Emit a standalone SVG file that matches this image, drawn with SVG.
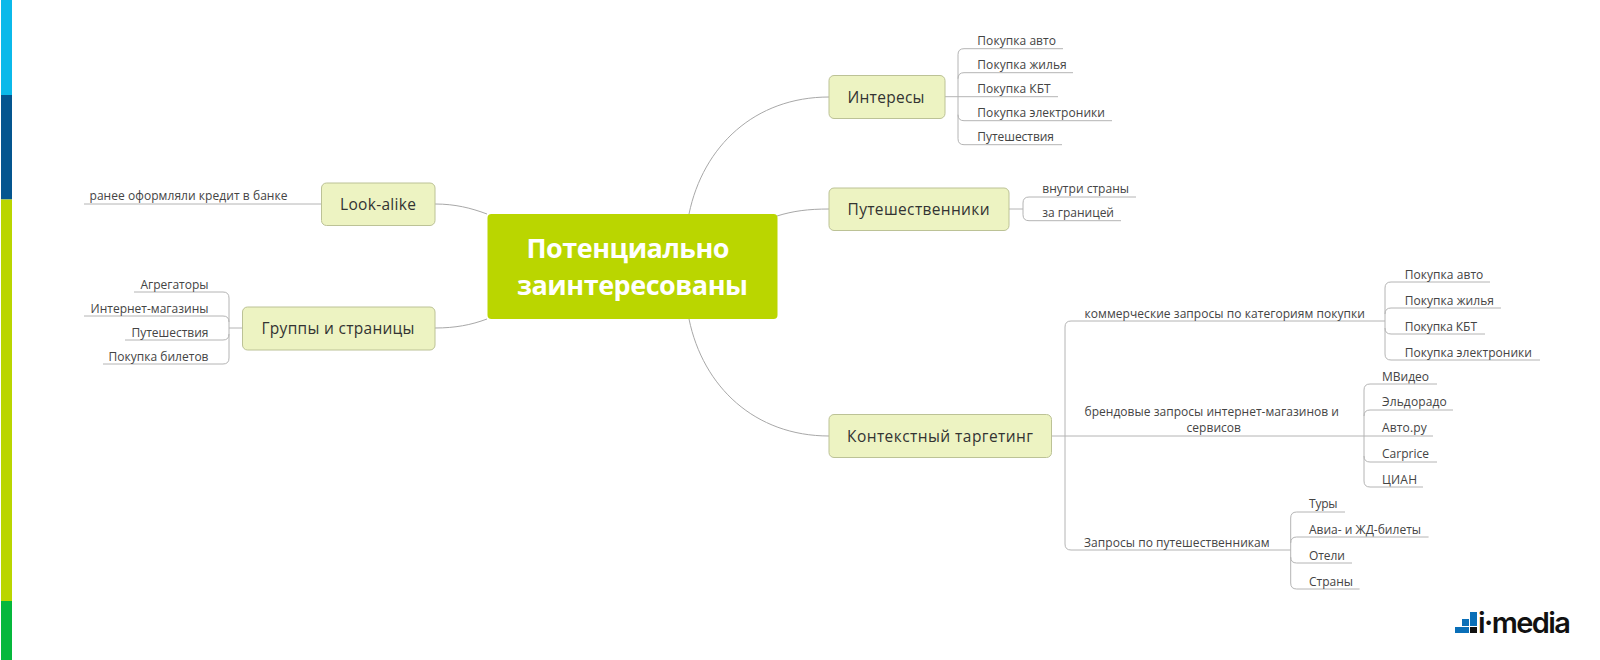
<svg xmlns="http://www.w3.org/2000/svg" width="1600" height="660" viewBox="0 0 1600 660">
<style>
text{font-family:"Open Sans","Noto Sans","Liberation Sans",sans-serif;fill:#444}
.leaf{font-size:12px}
.main{font-size:15.500px;fill:#333}
.root{font-size:27px;font-weight:700;fill:#fff}
.n{fill:#edf3c2;stroke:#bcc296;stroke-width:1}
.c{fill:none;stroke:#b4b4b4;stroke-width:1}
.curve{fill:none;stroke:#a8a8a8;stroke-width:1}
</style>
<rect width="1600" height="660" fill="#fff"/>
<g id="sidebar">
<rect x="1" y="0" width="11" height="95" fill="#0bb9ea"/>
<rect x="1" y="95" width="11" height="104.500" fill="#04558f"/>
<rect x="1" y="199.500" width="11" height="401.500" fill="#bad600"/>
<rect x="1" y="601" width="11" height="59" fill="#05b83c"/>
</g>
<g id="connectors">
<path class="curve" d="M689 214C703 146 755 97 829 97"/>
<path class="curve" d="M777 216C793 211 808 209 829 209"/>
<path class="curve" d="M689 319C703 387 755 436 829 436"/>
<path class="curve" d="M435 204C455 204 471 208 487 214"/>
<path class="curve" d="M435 328C455 328 471 325 487 319"/>
<path class="c" d="M945 96.700H1058"/>
<path class="c" d="M1063 48.700H964Q958 48.700 958 54.700V138.700Q958 144.700 964 144.700H1062"/>
<path class="c" d="M958 78.700Q958 72.700 964 72.700H1073"/>
<path class="c" d="M958 114.700Q958 120.700 964 120.700H1112"/>
<path class="c" d="M1009 209H1023"/>
<path class="c" d="M1136 197H1029Q1023 197 1023 203V214.700Q1023 220.700 1029 220.700H1121"/>
<path class="c" d="M1051 436H1433"/>
<path class="c" d="M1385 321H1071Q1065 321 1065 327V544Q1065 550 1071 550H1290.700"/>
<path class="c" d="M1490 282H1391Q1385 282 1385 288V354Q1385 360 1391 360H1540"/>
<path class="c" d="M1385 314Q1385 308 1391 308H1501"/>
<path class="c" d="M1385 328Q1385 334 1391 334H1485"/>
<path class="c" d="M1437 384H1370Q1364 384 1364 390V481Q1364 487 1370 487H1423"/>
<path class="c" d="M1364 416Q1364 410 1370 410H1453"/>
<path class="c" d="M1364 456Q1364 462 1370 462H1437"/>
<path class="c" d="M1345 512H1296.700Q1290.700 512 1290.700 518V583Q1290.700 589 1296.700 589H1359.600"/>
<path class="c" d="M1290.700 543Q1290.700 537 1296.700 537H1428.600"/>
<path class="c" d="M1290.700 557Q1290.700 563 1296.700 563H1352"/>
<path class="c" d="M321 204H84"/>
<path class="c" d="M242 328H229"/>
<path class="c" d="M134 292H223Q229 292 229 298V358Q229 364 223 364H103"/>
<path class="c" d="M84 316H223Q229 316 229 322"/>
<path class="c" d="M125 340H223Q229 340 229 334"/>
</g>
<g id="root"><rect x="487.500" y="214" width="290" height="105" rx="4" fill="#bad600"/>
<text class="root" x="526.500" y="258" textLength="203">Потенциально</text>
<text class="root" x="517" y="295" textLength="231">заинтересованы</text></g>
<g id="interests"><rect class="n" x="829" y="75.500" width="116" height="43" rx="5"/><text class="main" x="847.500" y="102.700" textLength="77">Интересы</text></g>
<g id="travellers"><rect class="n" x="829" y="188" width="180" height="42.500" rx="5"/><text class="main" x="847.500" y="215" textLength="142">Путешественники</text></g>
<g id="context"><rect class="n" x="829" y="414.500" width="222.500" height="43" rx="5"/><text class="main" x="847" y="442" textLength="186">Контекстный таргетинг</text></g>
<g id="lookalike"><rect class="n" x="321.500" y="183" width="113.500" height="42.500" rx="5"/><text class="main" x="340" y="210" textLength="76">Look-alike</text></g>
<g id="groups"><rect class="n" x="242.500" y="307" width="192.500" height="43" rx="5"/><text class="main" x="261.500" y="334" textLength="153">Группы и страницы</text></g>
<g id="interests-leaves">
<text class="leaf" x="977.300" y="45" textLength="78.700">Покупка авто</text>
<text class="leaf" x="977.300" y="69" textLength="89.400">Покупка жилья</text>
<text class="leaf" x="977.300" y="93" textLength="73.400">Покупка КБТ</text>
<text class="leaf" x="977.300" y="117" textLength="127.700">Покупка электроники</text>
<text class="leaf" x="977.300" y="141" textLength="76.700">Путешествия</text>
</g>
<g id="travellers-leaves">
<text class="leaf" x="1042.300" y="193" textLength="86.700">внутри страны</text>
<text class="leaf" x="1042.300" y="217" textLength="71.700">за границей</text>
</g>
<g id="context-leaves">
<text class="leaf" x="1084.500" y="318" textLength="280.500">коммерческие запросы по категориям покупки</text>
<text class="leaf" x="1084.500" y="416" textLength="254.500">брендовые запросы интернет-магазинов и</text>
<text class="leaf" x="1186.500" y="432" textLength="54.500">сервисов</text>
<text class="leaf" x="1084" y="547" textLength="185.600">Запросы по путешественникам</text>
<text class="leaf" x="1404.700" y="279" textLength="78.600">Покупка авто</text>
<text class="leaf" x="1404.700" y="305" textLength="89.300">Покупка жилья</text>
<text class="leaf" x="1404.700" y="331" textLength="72.300">Покупка КБТ</text>
<text class="leaf" x="1404.700" y="357" textLength="127.300">Покупка электроники</text>
<text class="leaf" x="1382" y="381" textLength="47">МВидео</text>
<text class="leaf" x="1382" y="406" textLength="64.700">Эльдорадо</text>
<text class="leaf" x="1382" y="432" textLength="44.700">Авто.ру</text>
<text class="leaf" x="1382" y="458" textLength="47">Carprice</text>
<text class="leaf" x="1382" y="484" textLength="35">ЦИАН</text>
<text class="leaf" x="1309" y="508" textLength="28.500">Туры</text>
<text class="leaf" x="1309" y="534" textLength="112">Авиа- и ЖД-билеты</text>
<text class="leaf" x="1309" y="560" textLength="36">Отели</text>
<text class="leaf" x="1309" y="586" textLength="44">Страны</text>
</g>
<g id="left-leaves">
<text class="leaf" x="89.500" y="200" textLength="198">ранее оформляли кредит в банке</text>
<text class="leaf" x="140.500" y="289" textLength="68">Агрегаторы</text>
<text class="leaf" x="90.500" y="313" textLength="118">Интернет-магазины</text>
<text class="leaf" x="131.500" y="337" textLength="77">Путешествия</text>
<text class="leaf" x="108.500" y="361" textLength="100">Покупка билетов</text>
</g>
<g id="logo">
<rect x="1455" y="627" width="14" height="6" fill="#0a6fb8"/>
<rect x="1462" y="619" width="7" height="7" fill="#0a6fb8"/>
<rect x="1470" y="612" width="7" height="14" fill="#0a6fb8"/>
<rect x="1470" y="627" width="7" height="6" fill="#111"/>
<text x="1478" y="633" textLength="93" style="font-family:Inter,'Liberation Sans',sans-serif;font-size:29px;font-weight:600;fill:#111">i·media</text>
</g>
</svg>
